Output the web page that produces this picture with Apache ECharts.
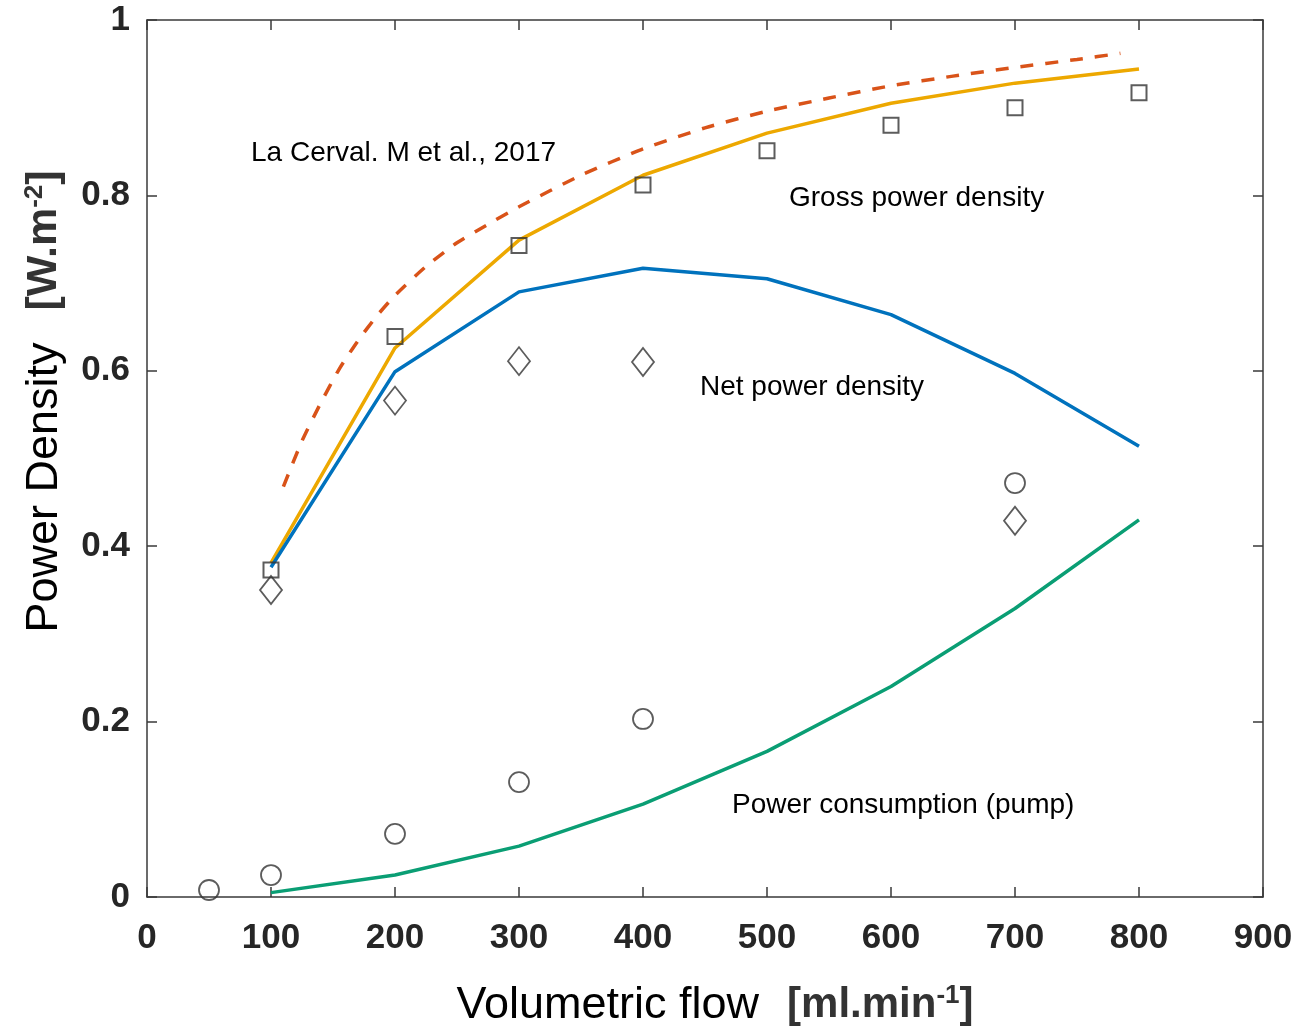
<!DOCTYPE html>
<meta charset="utf-8">
<style>
  html, body { margin: 0; padding: 0; background: #fff; }
  #container { width: 1299px; height: 1028px; }
</style>
<body>
<div id="container"></div>
<script src="https://cdn.jsdelivr.net/npm/echarts@6.0.0/dist/echarts.min.js"></script>
<script>

// model curves (lines), flow in ml/min
var flowModel = [100, 200, 300, 400, 500, 600, 700, 800];
var grossModel = [0.381, 0.626, 0.749, 0.823, 0.871, 0.905, 0.928, 0.944];
var netModel = [0.376, 0.599, 0.690, 0.717, 0.705, 0.664, 0.597, 0.514];
var pumpModel = [0.005, 0.025, 0.058, 0.106, 0.166, 0.240, 0.329, 0.430];

// La Cerval et al. 2017 (dashed)
var laCervalFlow = [110, 125, 140, 155, 170, 185, 200, 225, 250, 275, 300, 350, 400, 450, 500, 550, 600, 650, 700, 750, 785];
var laCervalValues = [0.468, 0.520, 0.563, 0.602, 0.634, 0.662, 0.686, 0.719, 0.746, 0.767, 0.787,
                      0.823, 0.853, 0.877, 0.896, 0.911, 0.925, 0.936, 0.946, 0.955, 0.962];

// experimental points
var grossExpFlow = [100, 200, 300, 400, 500, 600, 700, 800];
var grossExp = [0.373, 0.639, 0.743, 0.812, 0.851, 0.880, 0.900, 0.917];
var netExpFlow = [100, 200, 300, 400, 700];
var netExp = [0.350, 0.566, 0.611, 0.610, 0.429];
var pumpExpFlow = [50, 100, 200, 300, 400, 700];
var pumpExp = [0.008, 0.025, 0.072, 0.131, 0.203, 0.472];

var xTicks = [0, 900, 100];
var yTicks = [0, 1, 0.2];

function pairs(xs, ys) {
  return xs.map(function (x, i) { return [x, ys[i]]; });
}

var font = "'Liberation Sans', Arial, sans-serif";
var axisColor = '#3a3a3a';

var myChart = echarts.init(document.getElementById('container'), null, { renderer: 'canvas' });

function boxAxis(pos, range) {
  return {
    type: 'value',
    position: pos,
    min: range[0], max: range[1], interval: range[2],
    axisLine: { show: true, onZero: false, lineStyle: { color: axisColor, width: 1.5 } },
    axisTick: { show: true, inside: true, length: 10, lineStyle: { color: axisColor, width: 1.5 } },
    axisLabel: { show: false },
    splitLine: { show: false }
  };
}

var labelStyle = { fontFamily: font, fontSize: 35, fontWeight: 'bold', color: '#262626' };

var option = {
  animation: false,
  backgroundColor: '#fff',
  grid: { left: 147, right: 36, top: 20, bottom: 131, containLabel: false, outerBoundsMode: 'none' },
  xAxis: [
    Object.assign(boxAxis('bottom', xTicks), {
      axisLabel: Object.assign({ show: true, margin: 24 }, labelStyle),
      name: '{t|Volumetric flow}{g| }{u|[ml.min}{s|-1}{u|]}',
      nameLocation: 'middle',
      nameGap: 86,
      nameTextStyle: {
        padding: [0, 0, 0, 20],
        rich: {
          t: { fontFamily: font, fontSize: 45, color: '#000' },
          g: { fontSize: 20, width: 28 },
          u: { fontFamily: font, fontSize: 42, fontWeight: 'bold', color: '#333' },
          s: { fontFamily: font, fontSize: 26, fontWeight: 'bold', color: '#333', verticalAlign: 'top' }
        }
      }
    }),
    boxAxis('top', xTicks)
  ],
  yAxis: [
    Object.assign(boxAxis('left', yTicks), {
      axisLabel: Object.assign({ show: true, margin: 17 }, labelStyle),
      name: '{t|Power Density}{g| }{u|[W.m}{s|-2}{u|]}',
      nameLocation: 'middle',
      nameGap: 80,
      nameTextStyle: {
        padding: [0, 0, 0, 114],
        rich: {
          t: { fontFamily: font, fontSize: 45, color: '#000' },
          g: { fontSize: 20, width: 32 },
          u: { fontFamily: font, fontSize: 43, fontWeight: 'bold', color: '#333' },
          s: { fontFamily: font, fontSize: 26, fontWeight: 'bold', color: '#333', verticalAlign: 'top' }
        }
      }
    }),
    boxAxis('right', yTicks)
  ],
  series: [
    {
      name: 'La Cerval 2017', type: 'line', smooth: 0.2, showSymbol: false,
      data: pairs(laCervalFlow, laCervalValues),
      lineStyle: { color: '#D95319', width: 3.5, type: [13, 12] }
    },
    {
      name: 'Gross model', type: 'line', showSymbol: false,
      data: pairs(flowModel, grossModel),
      lineStyle: { color: '#EDA800', width: 3.5 }
    },
    {
      name: 'Net model', type: 'line', showSymbol: false,
      data: pairs(flowModel, netModel),
      lineStyle: { color: '#0072BD', width: 3.5 }
    },
    {
      name: 'Pump model', type: 'line', showSymbol: false,
      data: pairs(flowModel, pumpModel),
      lineStyle: { color: '#0A9E74', width: 3.5 }
    },
    {
      name: 'Gross exp', type: 'scatter', symbol: 'rect', symbolSize: 15, z: 5,
      data: pairs(grossExpFlow, grossExp),
      itemStyle: { color: 'rgba(255,255,255,0)', borderColor: '#333', borderWidth: 2 }
    },
    {
      name: 'Net exp', type: 'scatter', symbol: 'diamond', symbolSize: [22, 28], z: 5,
      data: pairs(netExpFlow, netExp),
      itemStyle: { color: 'rgba(255,255,255,0)', borderColor: '#333', borderWidth: 1.8 }
    },
    {
      name: 'Pump exp', type: 'scatter', symbol: 'circle', symbolSize: 20, z: 5,
      data: pairs(pumpExpFlow, pumpExp),
      itemStyle: { color: 'rgba(255,255,255,0)', borderColor: '#333', borderWidth: 1.8 }
    }
  ],
  graphic: [
    { type: 'text', x: 251, y: 153, style: { text: 'La Cerval. M et al., 2017', font: '28px ' + font, fill: '#000', verticalAlign: 'middle' } },
    { type: 'text', x: 789, y: 198, style: { text: 'Gross power density', font: '28px ' + font, fill: '#000', verticalAlign: 'middle' } },
    { type: 'text', x: 700, y: 387, style: { text: 'Net power density', font: '28px ' + font, fill: '#000', verticalAlign: 'middle' } },
    { type: 'text', x: 732, y: 805, style: { text: 'Power consumption (pump)', font: '28px ' + font, fill: '#000', verticalAlign: 'middle' } }
  ]
};

myChart.setOption(option);
window.addEventListener('resize', myChart.resize);
</script>
</body>
